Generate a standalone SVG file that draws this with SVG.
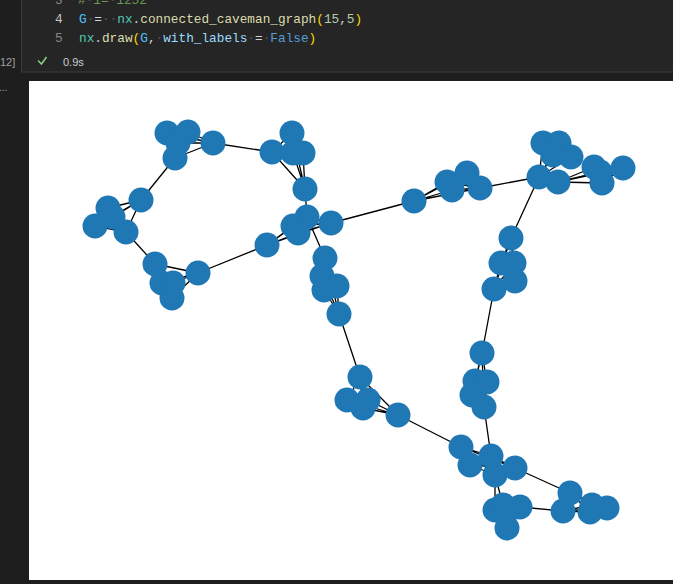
<svg xmlns="http://www.w3.org/2000/svg" width="673" height="584" viewBox="0 0 673 584">
<style>
.code{font-family:"Liberation Mono","DejaVu Sans Mono",monospace;font-size:12.75px}
.ln{font-family:"Liberation Mono","DejaVu Sans Mono",monospace;font-size:12.75px;fill:#858585}
.ws{fill:#555555}
.ui{font-family:"Liberation Sans",Arial,sans-serif}
.e{fill:none;stroke:#000;stroke-width:1.3;stroke-linejoin:round}
.n circle{fill:#1f77b4}
</style>
<rect x="0" y="0" width="673" height="584" fill="#1e1e1e"/>
<rect x="21.5" y="-5" width="660" height="77" fill="#252526" stroke="#3c3c3c" stroke-width="1"/>
<g id="code" xml:space="preserve">
<text x="55" y="4" class="ln">3</text>
<text x="78" y="4" class="code" fill="#6a9955">#<tspan class="ws">·</tspan>1=<tspan class="ws">·</tspan>1252</text>
<text x="55" y="23" class="ln" style="fill:#c6c6c6">4</text>
<text x="79" y="23" class="code"><tspan fill="#4fc1ff">G</tspan><tspan class="ws">·</tspan><tspan fill="#d4d4d4">=</tspan><tspan class="ws">··</tspan><tspan fill="#4ec9b0">nx</tspan><tspan fill="#d4d4d4">.</tspan><tspan fill="#dcdcaa">connected_caveman_graph</tspan><tspan fill="#ffd700">(</tspan><tspan fill="#b5cea8">15</tspan><tspan fill="#d4d4d4">,</tspan><tspan fill="#b5cea8">5</tspan><tspan fill="#ffd700">)</tspan></text>
<text x="55" y="42" class="ln">5</text>
<text x="79" y="42" class="code"><tspan fill="#4ec9b0">nx</tspan><tspan fill="#d4d4d4">.</tspan><tspan fill="#dcdcaa">draw</tspan><tspan fill="#ffd700">(</tspan><tspan fill="#4fc1ff">G</tspan><tspan fill="#d4d4d4">,</tspan><tspan class="ws">·</tspan><tspan fill="#9cdcfe">with_labels</tspan><tspan class="ws">·</tspan><tspan fill="#d4d4d4">=</tspan><tspan class="ws">·</tspan><tspan fill="#569cd6">False</tspan><tspan fill="#ffd700">)</tspan></text>
</g>
<g id="status">
<text x="0" y="66" class="ui" font-size="11" fill="#a0a0a0">12]</text>
<path d="M38,60.5 L41.5,64 L46.5,57" fill="none" stroke="#89d185" stroke-width="1.5"/>
<text x="63" y="66" class="ui" font-size="11" fill="#cccccc">0.9s</text>
<text x="-1" y="91" class="ui" font-size="10" fill="#a0a0a0">...</text>
</g>
<rect id="plot" x="29" y="81" width="644" height="499" fill="#ffffff"/>
<g id="edges">
<path class="e" d="M167,133 L188,132 178,143 175,158 213,143 167,133 178,143 213,143 188,132 175,158 167,133"/>
<path class="e" d="M272,152 L292,133 293,153 303,153 305,189 272,152 293,153 305,189 292,133 303,153 272,152"/>
<path class="e" d="M141,200 L108,208 113,217 95,226 126,232 141,200 113,217 126,232 108,208 95,226 141,200"/>
<path class="e" d="M155,264 L162,283 173,283 172,298 198,273 155,264 173,283 198,273 162,283 172,298 155,264"/>
<path class="e" d="M267,245 L307,217 293,226 298,233 331,223 267,245 293,226 331,223 307,217 298,233 267,245"/>
<path class="e" d="M325,258 L322,276 324,290 337,286 339,314 325,258 324,290 339,314 322,276 337,286 325,258"/>
<path class="e" d="M360,377 L347,400 368,400 363,408 398,415 360,377 368,400 398,415 347,400 363,408 360,377"/>
<path class="e" d="M511,238 L501,263 514,263 515,281 494,289 511,238 514,263 494,289 501,263 515,281 511,238"/>
<path class="e" d="M482,353 L475,381 487,382 472,395 484,407 482,353 487,382 484,407 475,381 472,395 482,353"/>
<path class="e" d="M414,201 L447,182 467,173 452,190 480,188 414,201 467,173 480,188 447,182 452,190 414,201"/>
<path class="e" d="M543,143 L559,143 553,155 571,157 539,177 543,143 553,155 539,177 559,143 571,157 543,143"/>
<path class="e" d="M558,182 L594,167 600,172 602,183 623,168 558,182 600,172 623,168 594,167 602,183 558,182"/>
<path class="e" d="M461,447 L470,465 491,456 495,475 515,468 461,447 491,456 515,468 470,465 495,475 461,447"/>
<path class="e" d="M495,510 L503,505 520,507 507,528 505,514 495,510 520,507 505,514 503,505 507,528 495,510"/>
<path class="e" d="M570,493 L563,511 590,512 607,508 592,505 570,493 590,512 592,505 563,511 607,508 570,493"/>
<path class="e" d="M213,143 L272,152 M175,158 L141,200 M126,232 L155,264 M198,273 L267,245 M305,189 L307,217 M307,217 L325,258 M331,223 L414,201 M480,188 L539,177 M539,177 L511,238 M539,177 L558,182 M339,314 L360,377 M398,415 L461,447 M494,289 L482,353 M484,407 L491,456 M515,468 L570,493 M495,475 L495,510 M495,475 L503,505 M520,507 L563,511"/>
</g>
<g id="nodes" class="n">
<g id="a1"><circle cx="167" cy="133" r="12.5"/></g>
<g id="a2"><circle cx="188" cy="132" r="12.5"/></g>
<g id="a3"><circle cx="178" cy="143" r="12.5"/></g>
<g id="a4"><circle cx="175" cy="158" r="12.5"/></g>
<g id="a5"><circle cx="213" cy="143" r="12.5"/></g>
<g id="b1"><circle cx="272" cy="152" r="12.5"/></g>
<g id="b2"><circle cx="292" cy="133" r="12.5"/></g>
<g id="b3"><circle cx="293" cy="153" r="12.5"/></g>
<g id="b4"><circle cx="303" cy="153" r="12.5"/></g>
<g id="b5"><circle cx="305" cy="189" r="12.5"/></g>
<g id="c1"><circle cx="141" cy="200" r="12.5"/></g>
<g id="c2"><circle cx="108" cy="208" r="12.5"/></g>
<g id="c3"><circle cx="113" cy="217" r="12.5"/></g>
<g id="c4"><circle cx="95" cy="226" r="12.5"/></g>
<g id="c5"><circle cx="126" cy="232" r="12.5"/></g>
<g id="d1"><circle cx="155" cy="264" r="12.5"/></g>
<g id="d2"><circle cx="162" cy="283" r="12.5"/></g>
<g id="d3"><circle cx="173" cy="283" r="12.5"/></g>
<g id="d4"><circle cx="172" cy="298" r="12.5"/></g>
<g id="d5"><circle cx="198" cy="273" r="12.5"/></g>
<g id="e1"><circle cx="267" cy="245" r="12.5"/></g>
<g id="e2"><circle cx="307" cy="217" r="12.5"/></g>
<g id="e3"><circle cx="293" cy="226" r="12.5"/></g>
<g id="e4"><circle cx="298" cy="233" r="12.5"/></g>
<g id="e5"><circle cx="331" cy="223" r="12.5"/></g>
<g id="f1"><circle cx="325" cy="258" r="12.5"/></g>
<g id="f2"><circle cx="322" cy="276" r="12.5"/></g>
<g id="f3"><circle cx="324" cy="290" r="12.5"/></g>
<g id="f4"><circle cx="337" cy="286" r="12.5"/></g>
<g id="f5"><circle cx="339" cy="314" r="12.5"/></g>
<g id="g1"><circle cx="360" cy="377" r="12.5"/></g>
<g id="g2"><circle cx="347" cy="400" r="12.5"/></g>
<g id="g3"><circle cx="368" cy="400" r="12.5"/></g>
<g id="g4"><circle cx="363" cy="408" r="12.5"/></g>
<g id="g5"><circle cx="398" cy="415" r="12.5"/></g>
<g id="h1"><circle cx="511" cy="238" r="12.5"/></g>
<g id="h2"><circle cx="501" cy="263" r="12.5"/></g>
<g id="h3"><circle cx="514" cy="263" r="12.5"/></g>
<g id="h4"><circle cx="515" cy="281" r="12.5"/></g>
<g id="h5"><circle cx="494" cy="289" r="12.5"/></g>
<g id="i1"><circle cx="482" cy="353" r="12.5"/></g>
<g id="i2"><circle cx="475" cy="381" r="12.5"/></g>
<g id="i3"><circle cx="487" cy="382" r="12.5"/></g>
<g id="i4"><circle cx="472" cy="395" r="12.5"/></g>
<g id="i5"><circle cx="484" cy="407" r="12.5"/></g>
<g id="j1"><circle cx="414" cy="201" r="12.5"/></g>
<g id="j2"><circle cx="447" cy="182" r="12.5"/></g>
<g id="j3"><circle cx="467" cy="173" r="12.5"/></g>
<g id="j4"><circle cx="452" cy="190" r="12.5"/></g>
<g id="j5"><circle cx="480" cy="188" r="12.5"/></g>
<g id="k1"><circle cx="543" cy="143" r="12.5"/></g>
<g id="k2"><circle cx="559" cy="143" r="12.5"/></g>
<g id="k3"><circle cx="553" cy="155" r="12.5"/></g>
<g id="k4"><circle cx="571" cy="157" r="12.5"/></g>
<g id="k5"><circle cx="539" cy="177" r="12.5"/></g>
<g id="l1"><circle cx="558" cy="182" r="12.5"/></g>
<g id="l2"><circle cx="594" cy="167" r="12.5"/></g>
<g id="l3"><circle cx="600" cy="172" r="12.5"/></g>
<g id="l4"><circle cx="602" cy="183" r="12.5"/></g>
<g id="l5"><circle cx="623" cy="168" r="12.5"/></g>
<g id="m1"><circle cx="461" cy="447" r="12.5"/></g>
<g id="m2"><circle cx="470" cy="465" r="12.5"/></g>
<g id="m3"><circle cx="491" cy="456" r="12.5"/></g>
<g id="m4"><circle cx="495" cy="475" r="12.5"/></g>
<g id="m5"><circle cx="515" cy="468" r="12.5"/></g>
<g id="n1"><circle cx="495" cy="510" r="12.5"/></g>
<g id="n2"><circle cx="503" cy="505" r="12.5"/></g>
<g id="n3"><circle cx="520" cy="507" r="12.5"/></g>
<g id="n4"><circle cx="507" cy="528" r="12.5"/></g>
<g id="n5"><circle cx="505" cy="514" r="12.5"/></g>
<g id="o1"><circle cx="570" cy="493" r="12.5"/></g>
<g id="o2"><circle cx="563" cy="511" r="12.5"/></g>
<g id="o3"><circle cx="590" cy="512" r="12.5"/></g>
<g id="o4"><circle cx="607" cy="508" r="12.5"/></g>
<g id="o5"><circle cx="592" cy="505" r="12.5"/></g>
</g>
</svg>
